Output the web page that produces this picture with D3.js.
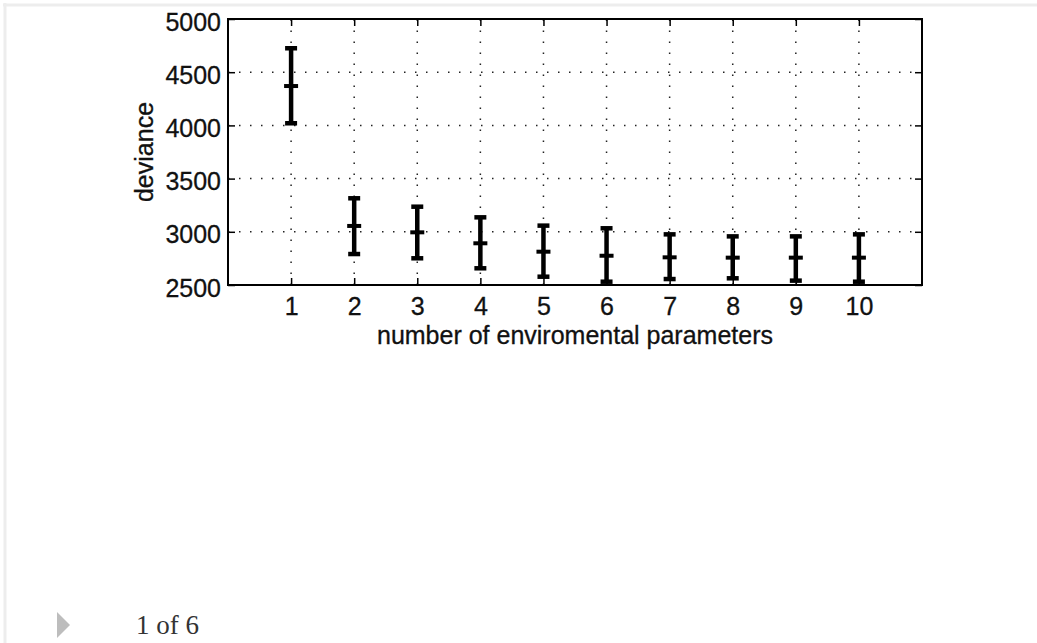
<!DOCTYPE html>
<html>
<head>
<meta charset="utf-8">
<script src="https://cdn.jsdelivr.net/npm/d3@7"></script>
<style>
  html, body { margin: 0; padding: 0; background: #fff; }
  svg { display: block; }
</style>
</head>
<body>
<svg id="page" width="1037" height="643"></svg>
<script>
// Mean deviance with error bars per number of environmental parameters
const categories = [1, 2, 3, 4, 5, 6, 7, 8, 9, 10];
const means      = [4370, 3055, 2995, 2892, 2813, 2775, 2760, 2757, 2757, 2757];
const lowerBound = [4020, 2791, 2751, 2657, 2578, 2531, 2556, 2563, 2541, 2531];
const upperBound = [4725, 3315, 3236, 3136, 3058, 3033, 2976, 2957, 2957, 2976];
const yTicks = [2500, 3000, 3500, 4000, 4500, 5000];
const xLabel = "number of enviromental parameters";
const yLabel = "deviance";
const pagerText = "1 of 6";

const svg = d3.select("#page");
const W = 1037, H = 643;
const plot = { left: 228, right: 922, top: 19, bottom: 285 };
const font = "'Liberation Sans', Arial, Helvetica, sans-serif";
const fontSize = 25;

// page frame (light rule along the top and left)
svg.append("line").attr("x1", 3).attr("x2", W).attr("y1", 5).attr("y2", 5)
  .attr("stroke", "#ededed").attr("stroke-width", 3);
svg.append("line").attr("x1", 5).attr("x2", 5).attr("y1", 3).attr("y2", H)
  .attr("stroke", "#ededed").attr("stroke-width", 3);

const x = d3.scaleLinear().domain([0, 11]).range([plot.left, plot.right]);
const y = d3.scaleLinear().domain([2500, 5000]).range([plot.bottom, plot.top]);

// dotted grid
const grid = svg.append("g").attr("stroke", "#222").attr("stroke-width", 1.5)
  .attr("stroke-dasharray", "1.5,9.5");
grid.selectAll("line.gx").data(categories).join("line").attr("class", "gx")
  .attr("x1", d => x(d)).attr("x2", d => x(d))
  .attr("y1", plot.bottom).attr("y2", plot.top);
grid.selectAll("line.gy").data(yTicks.filter(t => t > 2500 && t < 5000)).join("line").attr("class", "gy")
  .attr("y1", d => y(d)).attr("y2", d => y(d))
  .attr("x1", plot.left).attr("x2", plot.right);

// axes with inward ticks on all four sides
const tickLen = -7;
function styleAxis(g) {
  g.select(".domain").remove();
  g.selectAll(".tick line").attr("stroke", "#000").attr("stroke-width", 1.5);
  g.selectAll(".tick text").attr("fill", "#111").attr("font-family", font)
    .attr("font-size", fontSize).attr("stroke", "#111").attr("stroke-width", 0.3);
}
const gBottom = svg.append("g").attr("transform", `translate(0,${plot.bottom})`)
  .call(d3.axisBottom(x).tickValues(categories).tickFormat(d3.format("d")).tickSize(tickLen));
styleAxis(gBottom);
gBottom.selectAll(".tick text").attr("y", 30).attr("dy", 0);

svg.append("g").attr("transform", `translate(0,${plot.top})`)
  .call(d3.axisTop(x).tickValues(categories).tickFormat("").tickSize(tickLen)).call(styleAxis);

const gLeft = svg.append("g").attr("transform", `translate(${plot.left},0)`)
  .call(d3.axisLeft(y).tickValues(yTicks).tickFormat(d3.format("d")).tickSize(tickLen));
styleAxis(gLeft);
gLeft.selectAll(".tick text").attr("x", -7).attr("y", 11).attr("dy", 0);

svg.append("g").attr("transform", `translate(${plot.right},0)`)
  .call(d3.axisRight(y).tickValues(yTicks).tickFormat("").tickSize(tickLen)).call(styleAxis);

// axes box
svg.append("rect")
  .attr("x", plot.left).attr("y", plot.top)
  .attr("width", plot.right - plot.left).attr("height", plot.bottom - plot.top)
  .attr("fill", "none").attr("stroke", "#000").attr("stroke-width", 2);

// error bars
const rows = categories.map((c, i) => ({ c, m: means[i], lo: lowerBound[i], hi: upperBound[i] }));
const eb = svg.append("g").attr("stroke", "#000").attr("stroke-width", 4.5);
const capW = 12, midW = 14;
eb.selectAll("line.v").data(rows).join("line").attr("class", "v")
  .attr("x1", d => x(d.c)).attr("x2", d => x(d.c))
  .attr("y1", d => y(d.lo)).attr("y2", d => y(d.hi));
eb.selectAll("line.top").data(rows).join("line").attr("class", "top")
  .attr("x1", d => x(d.c) - capW / 2).attr("x2", d => x(d.c) + capW / 2)
  .attr("y1", d => y(d.hi)).attr("y2", d => y(d.hi));
eb.selectAll("line.bot").data(rows).join("line").attr("class", "bot")
  .attr("x1", d => x(d.c) - capW / 2).attr("x2", d => x(d.c) + capW / 2)
  .attr("y1", d => y(d.lo)).attr("y2", d => y(d.lo));
eb.selectAll("line.mid").data(rows).join("line").attr("class", "mid")
  .attr("stroke-width", 4)
  .attr("x1", d => x(d.c) - midW / 2).attr("x2", d => x(d.c) + midW / 2)
  .attr("y1", d => y(d.m)).attr("y2", d => y(d.m));

// axis titles
svg.append("text")
  .attr("x", (plot.left + plot.right) / 2).attr("y", 344)
  .attr("text-anchor", "middle").attr("font-family", font).attr("font-size", fontSize)
  .attr("fill", "#111").attr("stroke", "#111").attr("stroke-width", 0.3).text(xLabel);
svg.append("text")
  .attr("transform", `translate(153,${(plot.top + plot.bottom) / 2}) rotate(-90)`)
  .attr("text-anchor", "middle").attr("font-family", font).attr("font-size", fontSize)
  .attr("fill", "#111").attr("stroke", "#111").attr("stroke-width", 0.3).text(yLabel);

// pager
svg.append("path")
  .attr("d", d3.line()([[57, 612], [70, 625], [57, 638]]) + "Z")
  .attr("fill", "#bdbdbd");
svg.append("text")
  .attr("x", 136).attr("y", 634)
  .attr("font-family", "'Liberation Serif', 'Times New Roman', serif")
  .attr("font-size", 27).attr("fill", "#333").text(pagerText);
</script>
</body>
</html>
